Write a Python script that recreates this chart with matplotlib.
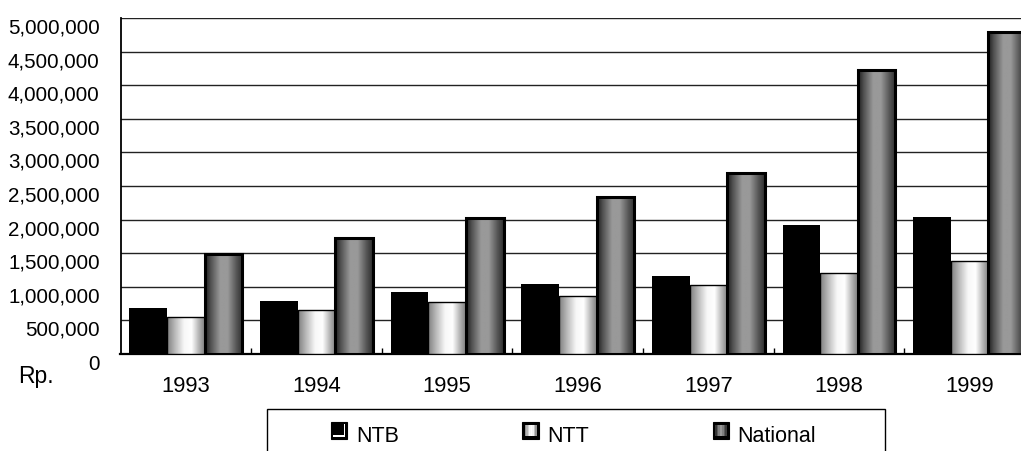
import numpy as np
import matplotlib
matplotlib.use('Agg')
import matplotlib.pyplot as plt
from matplotlib.patches import Rectangle
from matplotlib.legend_handler import HandlerBase
from matplotlib.transforms import ScaledTranslation

plt.rcParams['font.family'] = ['Liberation Sans', 'DejaVu Sans']

# ---------------- data ----------------
years = ['1993', '1994', '1995', '1996', '1997', '1998', '1999']
ntb = [680000, 785000, 920000, 1040000, 1160000, 1920000, 2040000]
ntt = [550000, 655000, 770000, 860000, 1030000, 1205000, 1380000]
national = [1490000, 1725000, 2025000, 2340000, 2700000, 4230000, 4785000]
series_names = ['NTB', 'NTT', 'National']
y_ticks = list(range(0, 5000001, 500000))
y_tick_labels = [f'{v:,}' for v in y_ticks]
unit_label = 'Rp.'

W, H = 1021, 452
fig = plt.figure(figsize=(W / 100, H / 100), dpi=100)
ax_left, ax_right, ax_top, ax_bottom = 120.5, 1035, 19, 355
ax = fig.add_axes([ax_left / W, 1 - ax_bottom / H, (ax_right - ax_left) / W, (ax_bottom - ax_top) / H])

x = np.arange(len(years))
bw = 0.288

# gradient profiles (position, gray level)
ntt_prof = ([0.0, 0.2, 0.45, 0.65, 0.85, 1.0], [0.5, 0.72, 0.97, 1.0, 0.7, 0.5])
nat_prof = ([0.0, 0.15, 0.4, 0.6, 0.85, 1.0], [0.12, 0.32, 0.6, 0.6, 0.32, 0.18])


def grad_array(prof, n=64):
    xs = np.linspace(0, 1, n)
    g = np.interp(xs, prof[0], prof[1])
    return np.dstack([g, g, g]).reshape(1, n, 3)


ax.set_axisbelow(True)
b1 = ax.bar(x - bw, ntb, bw, color='black', edgecolor='black', linewidth=0, zorder=3)
b2 = ax.bar(x, ntt, bw, color='none', edgecolor='black', linewidth=1.0, zorder=4)
b3 = ax.bar(x + bw, national, bw, color='none', edgecolor='black', linewidth=2.2, zorder=4)

for bars, prof in ((b2, ntt_prof), (b3, nat_prof)):
    arr = grad_array(prof)
    for r in bars:
        x0, w0, h0 = r.get_x(), r.get_width(), r.get_height()
        im = ax.imshow(arr, extent=(x0, x0 + w0, 0, h0), aspect='auto',
                       interpolation='bilinear', zorder=3.5)
        im.set_clip_path(r)

ax.set_xlim(-0.5, len(years) - 0.5)
ax.set_ylim(0, 5000000)

# grid
ax.set_yticks(y_ticks)
ax.set_yticklabels(y_tick_labels, fontsize=14.8)
ax.yaxis.grid(True, color='#222222', linewidth=1.0)
ax.tick_params(axis='y', length=0, pad=15)
off = ScaledTranslation(0, -7 / 100, fig.dpi_scale_trans)
for lab in ax.get_yticklabels():
    lab.set_transform(lab.get_transform() + off)

ax.set_xticks(x)
ax.set_xticklabels(years, fontsize=15.8)
ax.tick_params(axis='x', length=0, pad=23)
for lab in ax.get_xticklabels():
    lab.set_va('center')

ax.set_xticks(np.arange(len(years) - 1) + 0.5, minor=True)
ax.tick_params(axis='x', which='minor', direction='in', length=4.5, width=1.0, color='black')

for s in ['top', 'right']:
    ax.spines[s].set_visible(False)
ax.spines['left'].set_linewidth(1.3)
ax.spines['bottom'].set_linewidth(1.6)

fig.text(18 / W, 1 - 377 / H, unit_label, fontsize=16.5, ha='left', va='center')

# legend box
fig.patches.append(Rectangle((267 / W, 1 - 470 / H), (885 - 267) / W, 60 / H,
                             transform=fig.transFigure, facecolor='white',
                             edgecolor='black', linewidth=1.0, clip_on=False))


class GradHandler(HandlerBase):
    def __init__(self, kind):
        super().__init__()
        self.kind = kind

    def create_artists(self, legend, orig_handle, xdescent, ydescent, width, height, fontsize, trans):
        s = min(width, height)
        x0 = -xdescent
        y0 = -ydescent + (height - s) / 2 + s * 0.2
        arts = [Rectangle((x0, y0), s, s, facecolor='black', edgecolor='black', lw=0.8, transform=trans)]
        if self.kind == 'NTB':
            arts.append(Rectangle((x0 + s * 0.76, y0 + s * 0.12), s * 0.1, s * 0.76, facecolor='white', lw=0, transform=trans))
            arts.append(Rectangle((x0 + s * 0.12, y0 + s * 0.12), s * 0.74, s * 0.1, facecolor='white', lw=0, transform=trans))
        else:
            prof = ntt_prof if self.kind == 'NTT' else nat_prof
            n = 8
            inner = s * 0.7
            for i in range(n):
                g = np.interp((i + 0.5) / n, prof[0], prof[1])
                arts.append(Rectangle((x0 + s * 0.15 + inner * i / n, y0 + s * 0.15), inner / n + 0.2, inner,
                                      facecolor=(g, g, g), lw=0, transform=trans))
        return arts


handles = [Rectangle((0, 0), 1, 1) for _ in series_names]
leg = fig.legend(handles, series_names, ncol=3, loc='center left',
                 bbox_to_anchor=(331 / W, 1 - 437 / H), frameon=False,
                 fontsize=15.5, borderpad=0, borderaxespad=0,
                 handlelength=0.8, handleheight=0.8, handletextpad=0.35,
                 columnspacing=5.75,
                 handler_map={h: GradHandler(n) for h, n in zip(handles, series_names)})

fig.savefig('out.png', dpi=100)
